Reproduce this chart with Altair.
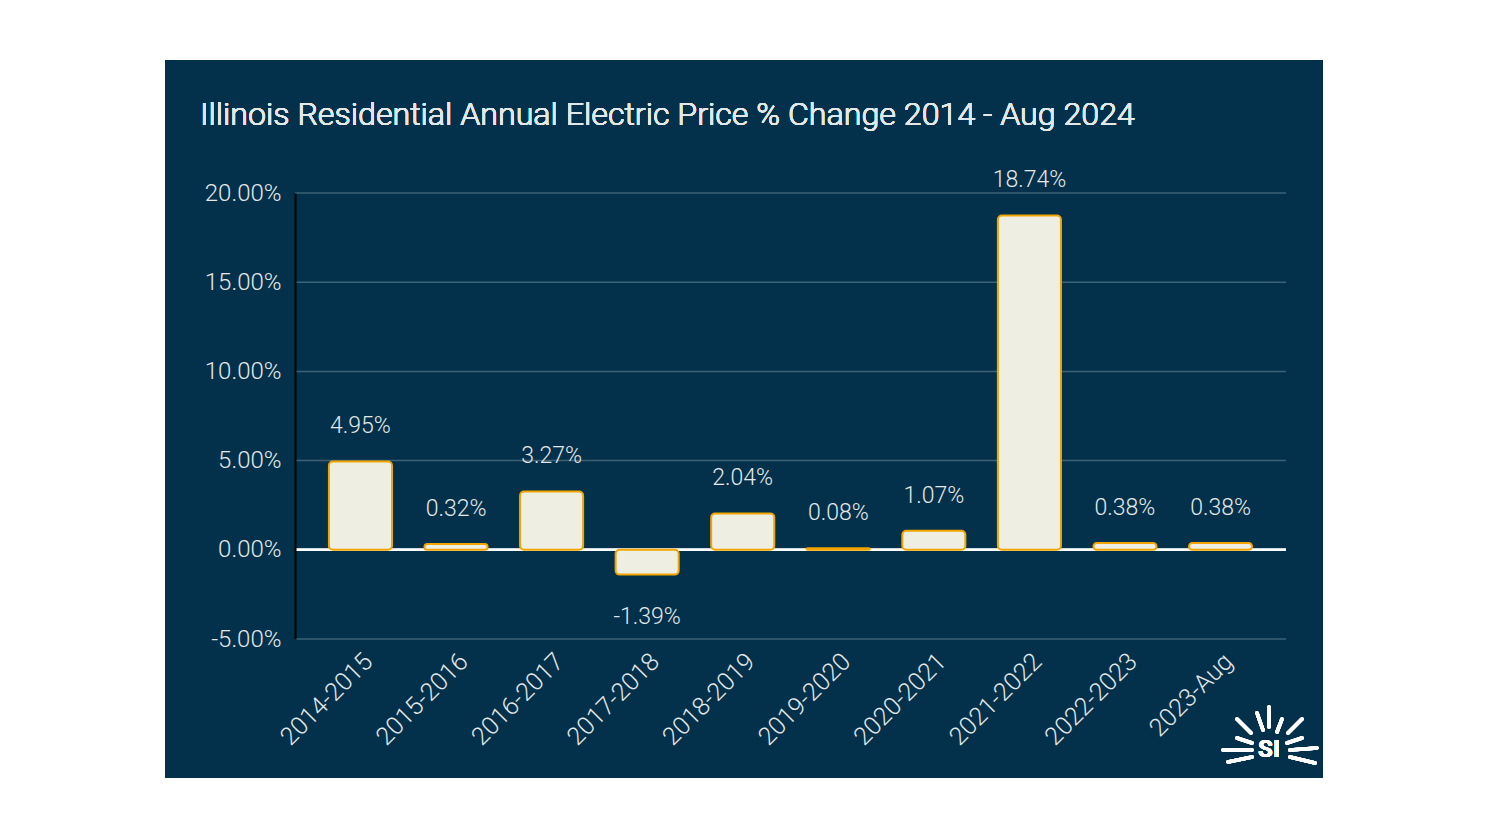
import altair as alt
import pandas as pd

periods = ["2014-2015", "2015-2016", "2016-2017", "2017-2018", "2018-2019",
           "2019-2020", "2020-2021", "2021-2022", "2022-2023", "2023-Aug"]
changes = [4.95, 0.32, 3.27, -1.39, 2.04, 0.08, 1.07, 18.74, 0.38, 0.38]
y_ticks = [-5, 0, 5, 10, 15, 20]
title_text = "Illinois Residential Annual Electric Price % Change 2014 - Aug 2024"

NAVY = "#03304A"
GRID = "#3D6276"
TEXT = "#E3E8E8"
BAR_FILL = "#EEEEE3"
BAR_STROKE = "#F2A500"
FONT = "Roboto"
WEIGHT = 300

W, H = 991, 446

df = pd.DataFrame({"period": periods, "change": changes})
df["label"] = [f"{v:.2f}%" for v in changes]
grid_df = pd.DataFrame({"tick": y_ticks})

x_enc = alt.X("period:N", sort=periods,
              scale=alt.Scale(paddingInner=0.34, paddingOuter=0.355),
              axis=alt.Axis(title=None, labelAngle=-45, labelAlign="right",
                            labelBaseline="middle", labelPadding=18, labelOffset=8,
                            labelFontSize=25, labelColor=TEXT, labelFont=FONT,
                            labelFontWeight=WEIGHT,
                            ticks=False, domain=False, zindex=1))
y_scale = alt.Scale(domain=[-5, 20], nice=False)
y_enc = alt.Y("change:Q", scale=y_scale,
              axis=alt.Axis(title=None, values=y_ticks, grid=False, ticks=False,
                            labelExpr="replace(format(datum.value, '.2f'), '\u2212', '-') + '%'",
                            labelFontSize=24, labelColor=TEXT, labelFont=FONT,
                            labelFontWeight=WEIGHT,
                            labelPadding=14, domainColor="#000000",
                            domainWidth=2, zindex=1))

panel = alt.Chart(df).mark_rect(color=NAVY).encode(
    x=alt.value(-130), x2=alt.value(1028), y=alt.value(-133), y2=alt.value(585))

grid = alt.Chart(grid_df).mark_rule(color=GRID, strokeWidth=1.5).encode(
    y=alt.Y("tick:Q", scale=y_scale), x=alt.value(0), x2=alt.value(W))

zero = alt.Chart(grid_df).mark_rule(color="#FFFFFF", strokeWidth=2).encode(
    y=alt.datum(0, scale=y_scale), x=alt.value(0), x2=alt.value(W))

bars = alt.Chart(df).mark_bar(fill=BAR_FILL, stroke=BAR_STROKE, strokeWidth=2,
                              cornerRadiusEnd=4).encode(
    x=x_enc, y=y_enc, y2=alt.datum(0))

pos_labels = alt.Chart(df).transform_filter("datum.change >= 0").mark_text(
    baseline="alphabetic", dy=-28, fontSize=23, color=TEXT, font=FONT,
    fontWeight=WEIGHT).encode(
    x=alt.X("period:N", sort=periods), y=alt.Y("change:Q", scale=y_scale),
    text="label:N")

neg_labels = alt.Chart(df).transform_filter("datum.change < 0").mark_text(
    baseline="top", dy=31, fontSize=23, color=TEXT, font=FONT,
    fontWeight=WEIGHT).encode(
    x=alt.X("period:N", sort=periods), y=alt.Y("change:Q", scale=y_scale),
    text="label:N")

title = alt.Chart(df).mark_text(align="left", baseline="alphabetic", fontSize=32.2,
                                color=TEXT, font=FONT, fontWeight=WEIGHT).encode(
    x=alt.value(-95), y=alt.value(-68), text=alt.value(title_text))

# logo: "SI" with sun rays
ox, oy = 295, 193
rays = [((1269, 707), (1269, 727)), ((1257, 713), (1263, 730)),
        ((1282, 719), (1277, 732)), ((1302, 719), (1288, 733)),
        ((1237, 719), (1251, 733)), ((1237, 738), (1252, 743)),
        ((1223, 750), (1252, 750)), ((1228, 762), (1252, 757)),
        ((1287, 743), (1302, 738)), ((1290, 750), (1317, 748)),
        ((1290, 757), (1315, 763))]
logo_layers = []
for (a, b) in rays:
    logo_layers.append(alt.Chart(grid_df).mark_rule(color="#FFFFFF", strokeWidth=3.5,
                                                    strokeCap="round").encode(
        x=alt.value(a[0] - ox), y=alt.value(a[1] - oy),
        x2=alt.value(b[0] - ox), y2=alt.value(b[1] - oy)))
logo_text = alt.Chart(df).mark_text(align="center", baseline="middle", fontSize=24,
                                    fontWeight="bold", color="#FFFFFF", font=FONT).encode(
    x=alt.value(1269 - ox), y=alt.value(750 - oy), text=alt.value("SI"))

chart = alt.layer(panel, grid, zero, bars, pos_labels, neg_labels, title,
                  *logo_layers, logo_text).properties(
    width=W, height=H,
    padding={"left": 157, "top": 52, "right": 20, "bottom": 20},
    background="#FFFFFF",
).configure_view(stroke=None)

chart.save("out.html", embed_options={"renderer": "svg", "actions": False})
